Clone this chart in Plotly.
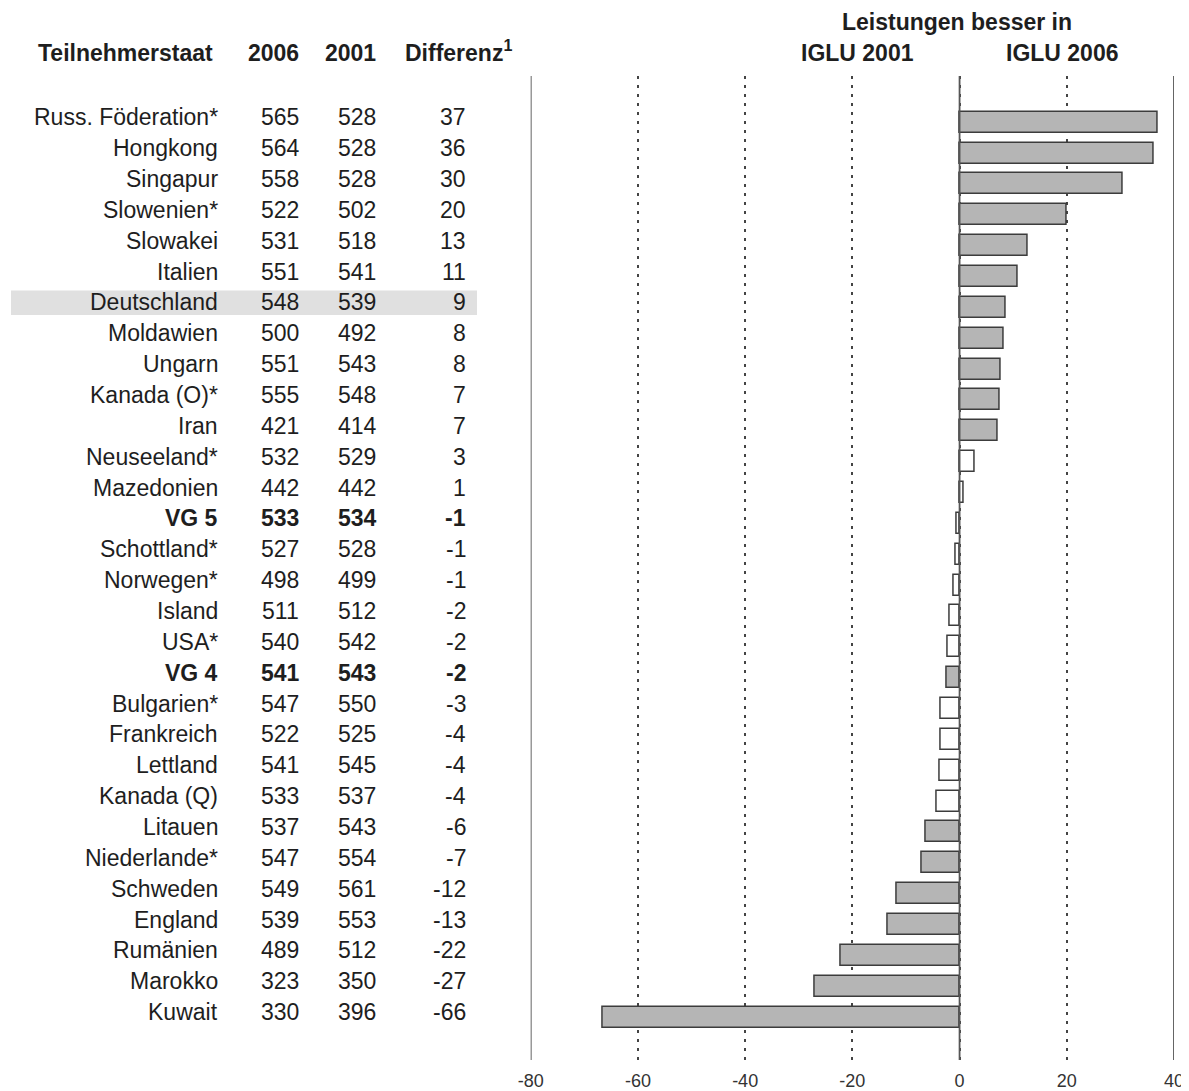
import plotly.graph_objects as go

countries = ["Russ. Föderation*", "Hongkong", "Singapur", "Slowenien*", "Slowakei", "Italien",
             "Deutschland", "Moldawien", "Ungarn", "Kanada (O)*", "Iran", "Neuseeland*",
             "Mazedonien", "VG 5", "Schottland*", "Norwegen*", "Island", "USA*", "VG 4",
             "Bulgarien*", "Frankreich", "Lettland", "Kanada (Q)", "Litauen", "Niederlande*",
             "Schweden", "England", "Rumänien", "Marokko", "Kuwait"]
score_2006 = [565, 564, 558, 522, 531, 551, 548, 500, 551, 555, 421, 532, 442, 533, 527, 498,
              511, 540, 541, 547, 522, 541, 533, 537, 547, 549, 539, 489, 323, 330]
score_2001 = [528, 528, 528, 502, 518, 541, 539, 492, 543, 548, 414, 529, 442, 534, 528, 499,
              512, 542, 543, 550, 525, 545, 537, 543, 554, 561, 553, 512, 350, 396]
diff_label = [37, 36, 30, 20, 13, 11, 9, 8, 8, 7, 7, 3, 1, -1, -1, -1, -2, -2, -2, -3, -4, -4,
              -4, -6, -7, -12, -13, -22, -27, -66]
# unrounded differences
diff_bar = [37.0, 36.3, 30.5, 20.0, 12.7, 10.8, 8.6, 8.2, 7.7, 7.5, 7.1, 2.8, 0.75, -0.6, -0.8,
            -1.1, -1.9, -2.2, -2.4, -3.5, -3.6, -3.7, -4.3, -6.4, -7.1, -11.8, -13.5, -22.2,
            -27.1, -66.5]
significant = [True] * 11 + [False] * 7 + [True] + [False] * 4 + [True] * 7
bold_rows = ["VG 5", "VG 4"]
highlight_row = "Deutschland"
x_ticks = [-80, -60, -40, -20, 0, 20, 40]

W, H = 1189, 1091
OFF = 8  # page body margin offset
GRAY = "#b5b5b5"
EDGE = "#3c3c3c"
TXT = "#1e1e1e"
FONT = "Liberation Sans, Arial, sans-serif"

n = len(countries)
rows = list(range(n))

# target pixel geometry
row0_px, row_step = 122.2, 30.86
top_px, bot_px = 76, 1060
x_left_px, x_right_px = 530.7, 1174


def px(X):
    return (X - OFF) / W


def py(Y):
    return 1 - (Y - OFF) / H


def vpix(p):
    return (p - row0_px) / row_step


fig = go.Figure()
fig.add_trace(go.Bar(
    x=diff_bar, y=rows, orientation="h", width=0.68,
    marker=dict(color=[GRAY if s else "white" for s in significant],
                line=dict(color=EDGE, width=1.5)),
    hoverinfo="skip", showlegend=False,
))

# vertical solid lines at -80, 0, 40
for xv in [x_ticks[0], 0, x_ticks[-1]]:
    fig.add_shape(type="line", xref="x", yref="paper", x0=xv, x1=xv,
                  y0=py(bot_px), y1=py(top_px),
                  line=dict(color="#555555", width=1.8), layer="above")

# highlight band
hi = countries.index(highlight_row)
fig.add_shape(type="rect", xref="paper", yref="y", x0=px(11), x1=px(477),
              y0=hi - 0.4 - 0.15, y1=hi + 0.4 - 0.15, fillcolor="#e0e0e0", line=dict(width=0),
              layer="below")

ann = []


def A(text, x_px, y, anchor, bold=False, size=23, yref="y", yshift=0):
    ann.append(dict(text=f"<b>{text}</b>" if bold else text, x=px(x_px), xref="paper",
                    y=y, yref=yref, xanchor=anchor, yanchor="middle", showarrow=False,
                    font=dict(family=FONT, size=size, color=TXT), yshift=yshift))


for i, c in enumerate(countries):
    b = c in bold_rows
    A(c, 220, i, "right", b, yshift=5)
    A(str(score_2006[i]), 280, i, "center", b, yshift=5)
    A(str(score_2001[i]), 357, i, "center", b, yshift=5)
    A(str(diff_label[i]), 468, i, "right", b, yshift=5)

A("Teilnehmerstaat", 125, py(53), "center", True, yref="paper")
A("2006", 273, py(53), "center", True, yref="paper")
A("2001", 350, py(53), "center", True, yref="paper")
A("Differenz<sup>1</sup>", 403, py(51), "left", True, yref="paper")
A("Leistungen besser in", 957, py(22), "center", True, yref="paper")
A("IGLU 2001", 857, py(53), "center", True, yref="paper")
A("IGLU 2006", 1062, py(53), "center", True, yref="paper")

fig.update_layout(
    template="none",
    width=W, height=H, margin=dict(l=0, r=0, t=0, b=0, pad=0), autosize=False,
    paper_bgcolor="white", plot_bgcolor="white",
    annotations=ann, bargap=0, showlegend=False,
    xaxis=dict(domain=[px(x_left_px), px(x_right_px)], range=[-80, 40], automargin=False,
               tickvals=x_ticks, ticktext=[str(t) for t in x_ticks],
               showgrid=True, gridcolor="#444444", gridwidth=1.8, griddash="3px,6px",
               zeroline=False, showline=False,
               ticks="outside", ticklen=4, tickcolor="rgba(0,0,0,0)",
               tickfont=dict(family=FONT, size=18, color="#333333")),
    yaxis=dict(domain=[py(bot_px), py(top_px)], automargin=False,
               range=[vpix(bot_px), vpix(top_px)],
               showgrid=False, zeroline=False, showline=False, showticklabels=False,
               ticks=""),
)
fig.write_html("out.html")
